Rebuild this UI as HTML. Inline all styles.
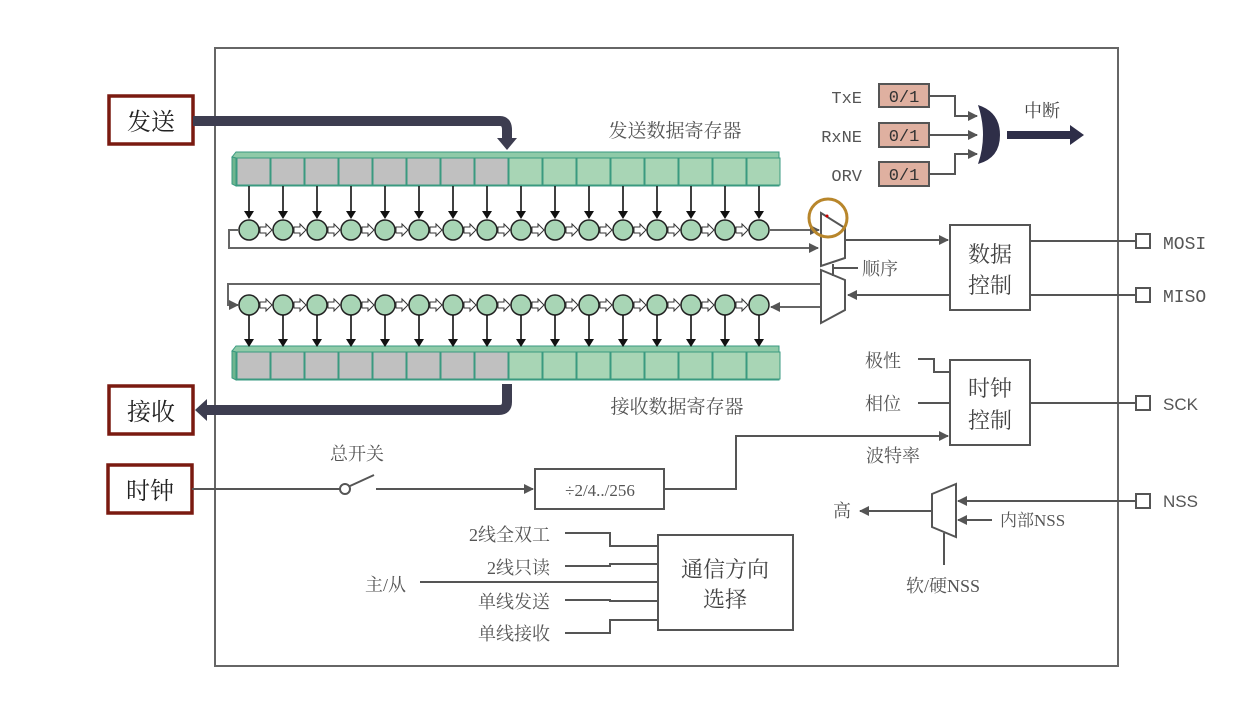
<!DOCTYPE html>
<html><head><meta charset="utf-8"><style>
html,body{margin:0;padding:0;background:#fff;}
svg{display:block;}
text{font-family:"Liberation Serif","Noto Serif CJK SC","Noto Sans CJK SC",serif;fill:#555;}
.m{font-family:"Liberation Mono","Noto Sans CJK SC",monospace;}
</style></head><body>
<svg width="1250" height="724" viewBox="0 0 1250 724" xmlns="http://www.w3.org/2000/svg">
<defs>
<marker id="ah" markerWidth="10" markerHeight="10" refX="9" refY="5" orient="auto" markerUnits="userSpaceOnUse"><path d="M0,0 L10,5 L0,10 z" fill="#555"/></marker>
<g id="tc">
 <line x1="249" y1="186" x2="249" y2="212" stroke="#111" stroke-width="1.6"/>
 <polygon points="244,211 254,211 249,219" fill="#111"/>
 <circle cx="249" cy="230" r="10" fill="#a8d5b5" stroke="#222" stroke-width="1.5"/>
 <polygon points="260,227 266,227 266,224 272,230 266,236 266,233 260,233" fill="#fff" stroke="#333" stroke-width="1"/>
</g>
<g id="rc">
 <circle cx="249" cy="305" r="10" fill="#a8d5b5" stroke="#222" stroke-width="1.5"/>
 <polygon points="260,302 266,302 266,299 272,305 266,311 266,308 260,308" fill="#fff" stroke="#333" stroke-width="1"/>
 <line x1="249" y1="315" x2="249" y2="340" stroke="#111" stroke-width="1.6"/>
 <polygon points="244,339 254,339 249,347" fill="#111"/>
</g>
<rect id="gc" x="237" y="158" width="33" height="27" fill="#c0c0c0" stroke="#3a9a80" stroke-width="1"/>
<rect id="ggc" x="237" y="158" width="33" height="27" fill="#a8d5b5" stroke="#3a9a80" stroke-width="1"/>
</defs>

<rect x="215" y="48" width="903" height="618" fill="none" stroke="#666" stroke-width="2"/>

<rect x="109" y="96" width="84" height="48" fill="#fff" stroke="#7a1a10" stroke-width="3.5"/>
<text x="151" y="130" font-size="24" text-anchor="middle" style="fill:#222">发送</text>
<rect x="109" y="386" width="84" height="48" fill="#fff" stroke="#7a1a10" stroke-width="3.5"/>
<text x="151" y="420" font-size="24" text-anchor="middle" style="fill:#222">接收</text>
<rect x="108" y="465" width="84" height="48" fill="#fff" stroke="#7a1a10" stroke-width="3.5"/>
<text x="150" y="499" font-size="24" text-anchor="middle" style="fill:#222">时钟</text>

<path d="M193,121 H500 Q507,121 507,130 V140" fill="none" stroke="#3d3d50" stroke-width="10"/>
<polygon points="497,138 517,138 507,150" fill="#3d3d50"/>
<path d="M507,384 V402 Q507,410 499,410 H205" fill="none" stroke="#3d3d50" stroke-width="10"/>
<polygon points="207,399 207,421 195,410" fill="#3d3d50"/>

<text x="675" y="137" font-size="19" text-anchor="middle">发送数据寄存器</text>
<text x="677" y="413" font-size="19" text-anchor="middle">接收数据寄存器</text>

<polygon points="232,157 236,152 779,152 779,158 236,158" fill="#8fcaa8" stroke="#3a9a80"/>
<polygon points="232,157 236,158 236,186 232,184" fill="#6fb58f" stroke="#3a9a80"/>
<rect x="236" y="158" width="543" height="28" fill="#a8d5b5" stroke="#3a9a80"/>
<use href="#gc"/><use href="#gc" x="34"/><use href="#gc" x="68"/><use href="#gc" x="102"/><use href="#gc" x="136"/><use href="#gc" x="170"/><use href="#gc" x="204"/><use href="#gc" x="238"/>
<use href="#ggc" x="272"/><use href="#ggc" x="306"/><use href="#ggc" x="340"/><use href="#ggc" x="374"/><use href="#ggc" x="408"/><use href="#ggc" x="442"/><use href="#ggc" x="476"/><use href="#ggc" x="510"/>
<use href="#tc"/><use href="#tc" x="34"/><use href="#tc" x="68"/><use href="#tc" x="102"/><use href="#tc" x="136"/><use href="#tc" x="170"/><use href="#tc" x="204"/><use href="#tc" x="238"/><use href="#tc" x="272"/><use href="#tc" x="306"/><use href="#tc" x="340"/><use href="#tc" x="374"/><use href="#tc" x="408"/><use href="#tc" x="442"/><use href="#tc" x="476"/>
<g transform="translate(510,0)">
 <line x1="249" y1="186" x2="249" y2="212" stroke="#111" stroke-width="1.6"/>
 <polygon points="244,211 254,211 249,219" fill="#111"/>
 <circle cx="249" cy="230" r="10" fill="#a8d5b5" stroke="#222" stroke-width="1.5"/>
</g>
<path d="M239,230 H229 V248 H818" fill="none" stroke="#666" stroke-width="2" marker-end="url(#ah)"/>
<line x1="769" y1="230" x2="819" y2="230" stroke="#666" stroke-width="2" marker-end="url(#ah)"/>

<polygon points="232,351 236,346 779,346 779,352 236,352" fill="#8fcaa8" stroke="#3a9a80"/>
<polygon points="232,351 236,352 236,380 232,378" fill="#6fb58f" stroke="#3a9a80"/>
<rect x="236" y="352" width="543" height="28" fill="#a8d5b5" stroke="#3a9a80"/>
<g transform="translate(0,194)">
<use href="#gc"/><use href="#gc" x="34"/><use href="#gc" x="68"/><use href="#gc" x="102"/><use href="#gc" x="136"/><use href="#gc" x="170"/><use href="#gc" x="204"/><use href="#gc" x="238"/>
<use href="#ggc" x="272"/><use href="#ggc" x="306"/><use href="#ggc" x="340"/><use href="#ggc" x="374"/><use href="#ggc" x="408"/><use href="#ggc" x="442"/><use href="#ggc" x="476"/><use href="#ggc" x="510"/>
</g>
<use href="#rc"/><use href="#rc" x="34"/><use href="#rc" x="68"/><use href="#rc" x="102"/><use href="#rc" x="136"/><use href="#rc" x="170"/><use href="#rc" x="204"/><use href="#rc" x="238"/><use href="#rc" x="272"/><use href="#rc" x="306"/><use href="#rc" x="340"/><use href="#rc" x="374"/><use href="#rc" x="408"/><use href="#rc" x="442"/><use href="#rc" x="476"/>
<g transform="translate(510,0)">
 <circle cx="249" cy="305" r="10" fill="#a8d5b5" stroke="#222" stroke-width="1.5"/>
 <line x1="249" y1="315" x2="249" y2="340" stroke="#111" stroke-width="1.6"/>
 <polygon points="244,339 254,339 249,347" fill="#111"/>
</g>
<path d="M821,284 H228 V305 H238" fill="none" stroke="#666" stroke-width="2" marker-end="url(#ah)"/>
<line x1="821" y1="307" x2="771" y2="307" stroke="#666" stroke-width="2" marker-end="url(#ah)"/>

<polygon points="821,213 845,228 845,258 821,266" fill="#fff" stroke="#555" stroke-width="2"/>
<polygon points="821,270 845,280 845,310 821,323" fill="#fff" stroke="#555" stroke-width="2"/>
<path d="M833,264 V276 M833,268 H858" fill="none" stroke="#555" stroke-width="2"/>
<text x="862" y="275" font-size="18">顺序</text>
<circle cx="828" cy="218" r="19" fill="none" stroke="#b8862b" stroke-width="3"/>
<circle cx="827" cy="216" r="1.5" fill="#c00"/>
<line x1="845" y1="240" x2="948" y2="240" stroke="#555" stroke-width="2" marker-end="url(#ah)"/>
<line x1="950" y1="295" x2="848" y2="295" stroke="#555" stroke-width="2" marker-end="url(#ah)"/>

<rect x="950" y="225" width="80" height="85" fill="#fff" stroke="#555" stroke-width="2"/>
<text x="990" y="262" font-size="22" text-anchor="middle" style="fill:#444">数据</text>
<text x="990" y="293" font-size="22" text-anchor="middle" style="fill:#444">控制</text>
<line x1="1030" y1="241" x2="1136" y2="241" stroke="#555" stroke-width="2"/>
<line x1="1030" y1="295" x2="1136" y2="295" stroke="#555" stroke-width="2"/>
<rect x="1136" y="234" width="14" height="14" fill="#fff" stroke="#555" stroke-width="2"/>
<rect x="1136" y="288" width="14" height="14" fill="#fff" stroke="#555" stroke-width="2"/>
<text x="1163" y="249" font-size="18" class="m">MOSI</text>
<text x="1163" y="302" font-size="18" class="m">MISO</text>

<text x="862" y="103" font-size="17" text-anchor="end" class="m">TxE</text>
<text x="862" y="142" font-size="17" text-anchor="end" class="m">RxNE</text>
<text x="862" y="181" font-size="17" text-anchor="end" class="m">ORV</text>
<rect x="879" y="84" width="50" height="23" fill="#dfb0a0" stroke="#555" stroke-width="2"/>
<rect x="879" y="123" width="50" height="24" fill="#dfb0a0" stroke="#555" stroke-width="2"/>
<rect x="879" y="162" width="50" height="24" fill="#dfb0a0" stroke="#555" stroke-width="2"/>
<text x="904" y="102" font-size="17" text-anchor="middle" class="m" style="fill:#333">0/1</text>
<text x="904" y="141" font-size="17" text-anchor="middle" class="m" style="fill:#333">0/1</text>
<text x="904" y="180" font-size="17" text-anchor="middle" class="m" style="fill:#333">0/1</text>
<path d="M929,96 H955 V116 H977" fill="none" stroke="#555" stroke-width="2" marker-end="url(#ah)"/>
<path d="M929,135 H977" fill="none" stroke="#555" stroke-width="2" marker-end="url(#ah)"/>
<path d="M929,174 H955 V154 H977" fill="none" stroke="#555" stroke-width="2" marker-end="url(#ah)"/>
<path d="M978,105 Q1000,112 1000,135 Q1000,158 978,164 Q988,135 978,105 z" fill="#2e2e48"/>
<rect x="1007" y="131" width="64" height="8" fill="#2e2e48"/>
<polygon points="1070,125 1084,135 1070,145" fill="#2e2e48"/>
<text x="1042" y="117" font-size="18" text-anchor="middle" style="fill:#444">中断</text>

<rect x="950" y="360" width="80" height="85" fill="#fff" stroke="#555" stroke-width="2"/>
<text x="990" y="396" font-size="22" text-anchor="middle" style="fill:#444">时钟</text>
<text x="990" y="428" font-size="22" text-anchor="middle" style="fill:#444">控制</text>
<text x="883" y="367" font-size="18" text-anchor="middle">极性</text>
<text x="883" y="410" font-size="18" text-anchor="middle">相位</text>
<text x="893" y="462" font-size="18" text-anchor="middle">波特率</text>
<path d="M918,359 H934 V372 H950" fill="none" stroke="#555" stroke-width="2"/>
<line x1="918" y1="403" x2="950" y2="403" stroke="#555" stroke-width="2"/>
<path d="M664,489 H736 V436 H948" fill="none" stroke="#555" stroke-width="2" marker-end="url(#ah)"/>
<line x1="1030" y1="403" x2="1136" y2="403" stroke="#555" stroke-width="2"/>
<rect x="1136" y="396" width="14" height="14" fill="#fff" stroke="#555" stroke-width="2"/>
<text x="1163" y="410" font-size="17" style="font-family:'Liberation Sans',sans-serif">SCK</text>

<polygon points="932,494 956,484 956,537 932,527" fill="#fff" stroke="#555" stroke-width="2"/>
<line x1="1136" y1="501" x2="958" y2="501" stroke="#555" stroke-width="2" marker-end="url(#ah)"/>
<line x1="992" y1="520" x2="958" y2="520" stroke="#555" stroke-width="2" marker-end="url(#ah)"/>
<line x1="931" y1="511" x2="860" y2="511" stroke="#555" stroke-width="2" marker-end="url(#ah)"/>
<line x1="944" y1="533" x2="944" y2="565" stroke="#555" stroke-width="2"/>
<rect x="1136" y="494" width="14" height="14" fill="#fff" stroke="#555" stroke-width="2"/>
<text x="1163" y="507" font-size="17" style="font-family:'Liberation Sans',sans-serif">NSS</text>
<text x="1000" y="526" font-size="17">内部NSS</text>
<text x="842" y="517" font-size="18" text-anchor="middle">高</text>
<text x="943" y="592" font-size="18" text-anchor="middle">软/硬NSS</text>

<line x1="192" y1="489" x2="340" y2="489" stroke="#555" stroke-width="2"/>
<circle cx="345" cy="489" r="5" fill="#fff" stroke="#555" stroke-width="2"/>
<line x1="350" y1="486" x2="374" y2="475" stroke="#555" stroke-width="2"/>
<line x1="376" y1="489" x2="533" y2="489" stroke="#555" stroke-width="2" marker-end="url(#ah)"/>
<text x="357" y="460" font-size="18" text-anchor="middle">总开关</text>
<rect x="535" y="469" width="129" height="40" fill="#fff" stroke="#555" stroke-width="2"/>
<text x="600" y="496" font-size="17" text-anchor="middle">÷2/4../256</text>

<rect x="658" y="535" width="135" height="95" fill="#fff" stroke="#555" stroke-width="2"/>
<text x="725" y="577" font-size="22" text-anchor="middle" style="fill:#444">通信方向</text>
<text x="725" y="607" font-size="22" text-anchor="middle" style="fill:#444">选择</text>
<text x="550" y="541" font-size="18" text-anchor="end">2线全双工</text>
<text x="550" y="574" font-size="18" text-anchor="end">2线只读</text>
<text x="406" y="591" font-size="18" text-anchor="end">主/从</text>
<text x="550" y="608" font-size="18" text-anchor="end">单线发送</text>
<text x="550" y="640" font-size="18" text-anchor="end">单线接收</text>
<path d="M565,533 H610 V546 H658 M565,566 H610 V564 H658 M420,582 H658 M565,600 H610 V601 H658 M565,633 H610 V620 H658" fill="none" stroke="#555" stroke-width="2"/>
</svg>
</body></html>
